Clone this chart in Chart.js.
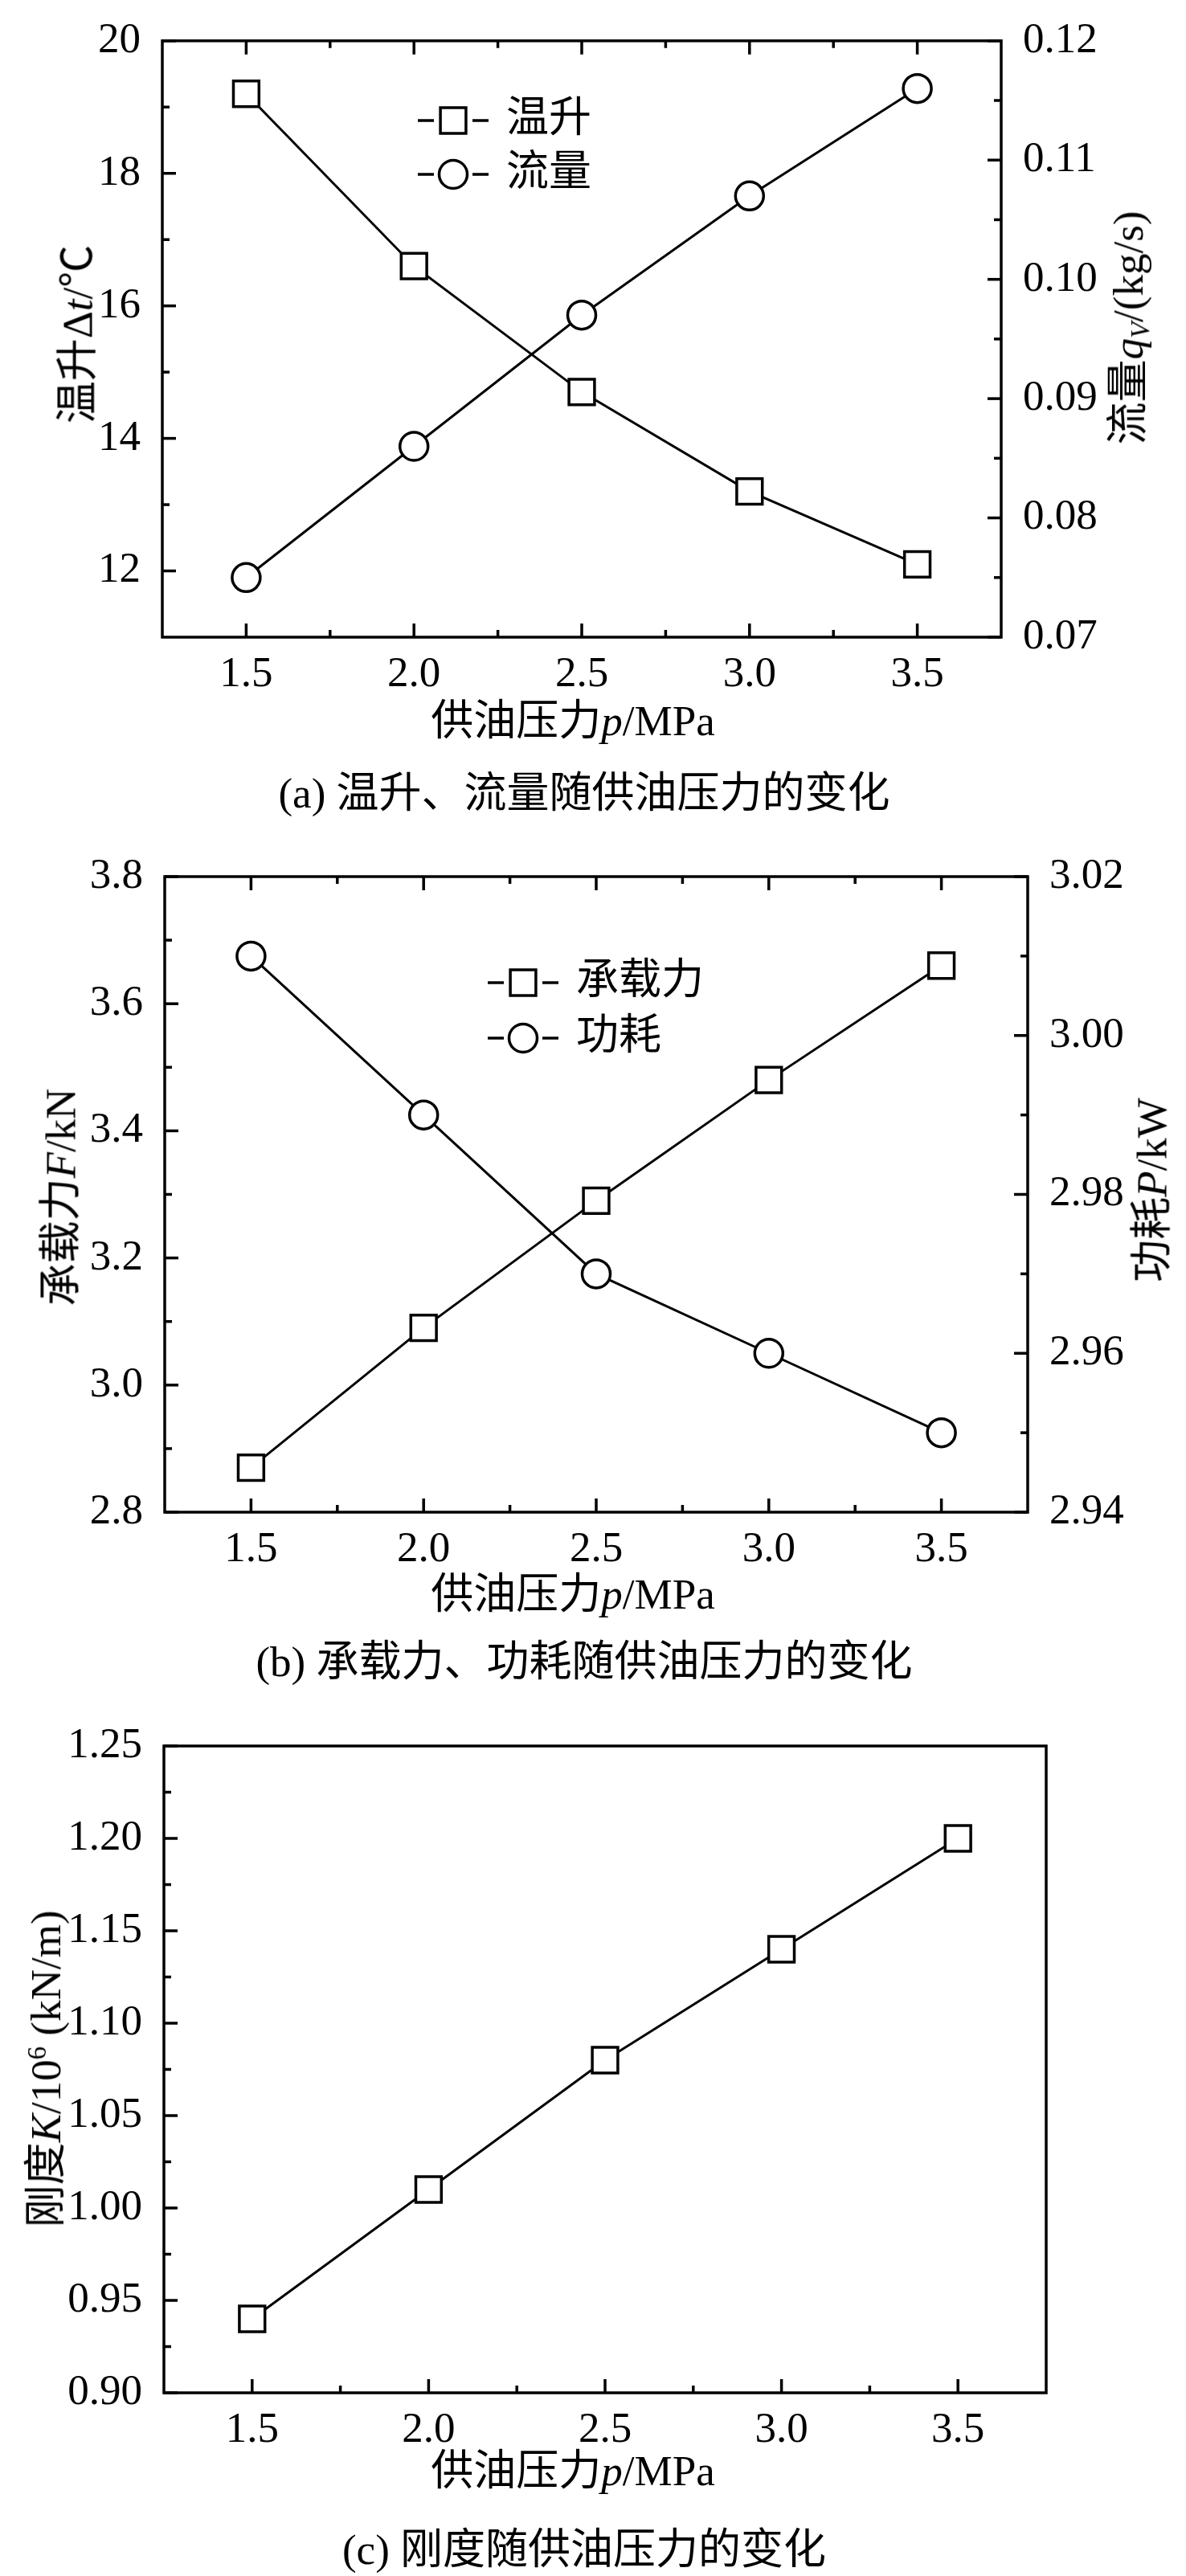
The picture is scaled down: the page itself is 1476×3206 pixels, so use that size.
<!DOCTYPE html>
<html>
<head>
<meta charset="utf-8">
<script src="https://cdn.jsdelivr.net/npm/chart.js@4.4.1/dist/chart.umd.min.js"></script>
<style>
  body { margin: 0; background: #fff; }
  #page { position: relative; width: 1476px; height: 3206px; overflow: hidden; }
  canvas { position: absolute; left: 0; }
  .txt {
    position: absolute; white-space: nowrap; line-height: 1; color: #000;
    font-family: 'Liberation Serif', 'Noto Sans CJK SC', serif; font-size: 53px;
  }
  .mid { transform: translate(-50%, -50%); }
  .rot { transform: translate(-50%, -50%) rotate(-90deg); }
  .txt sub { font-size: 0.62em; vertical-align: -0.25em; }
  .txt sup { font-size: 0.62em; vertical-align: 0.55em; }
</style>
</head>
<body>
<div id="page">
  <canvas id="chartA" width="1476" height="870" style="top:0px"></canvas>
  <canvas id="chartB" width="1476" height="919" style="top:1040px"></canvas>
  <canvas id="chartC" width="1476" height="935" style="top:2120px"></canvas>

  <div class="txt rot" style="left:97px;top:416px">温升Δ<i>t</i>/℃</div>
  <div class="txt rot" style="left:1407px;top:408px">流量<i>q</i><sub><i>V</i></sub>/(kg/s)</div>
  <div class="txt mid" style="left:713px;top:897px">供油压力<i>p</i>/MPa</div>
  <div class="txt mid" style="left:727px;top:987px">(a) 温升、流量随供油压力的变化</div>

  <div class="txt rot" style="left:76px;top:1490px">承载力<i>F</i>/kN</div>
  <div class="txt rot" style="left:1434px;top:1481px">功耗<i>P</i>/kW</div>
  <div class="txt mid" style="left:713px;top:1984px">供油压力<i>p</i>/MPa</div>
  <div class="txt mid" style="left:727px;top:2068px">(b) 承载力、功耗随供油压力的变化</div>

  <div class="txt rot" style="left:57px;top:2575px">刚度<i>K</i>/10<sup>6</sup> (kN/m)</div>
  <div class="txt mid" style="left:713px;top:3075px">供油压力<i>p</i>/MPa</div>
  <div class="txt mid" style="left:727px;top:3173px">(c) 刚度随供油压力的变化</div>
</div>

<script>
// values
const pressure = [1.5, 2.0, 2.5, 3.0, 3.5];
const tempRise = [19.2, 16.6, 14.7, 13.2, 12.1];
const flowRate = [0.075, 0.086, 0.097, 0.107, 0.116];
const loadForce = [2.87, 3.09, 3.29, 3.48, 3.66];
const powerLoss = [3.01, 2.99, 2.97, 2.96, 2.95];
const stiffness = [0.94, 1.01, 1.08, 1.14, 1.20];

// tick positions (major ones get labels)
const pressureTicks = [1.5, 2.0, 2.5, 3.0, 3.5];
const pressureMinor = [1.75, 2.25, 2.75, 3.25];
const tempTicks = [12, 14, 16, 18, 20];
const tempMinor = [13, 15, 17, 19];
const flowTicks = [0.07, 0.08, 0.09, 0.10, 0.11, 0.12];
const flowMinor = [0.075, 0.085, 0.095, 0.105, 0.115];
const forceTicks = [2.8, 3.0, 3.2, 3.4, 3.6, 3.8];
const forceMinor = [2.9, 3.1, 3.3, 3.5, 3.7];
const powerTicks = [2.94, 2.96, 2.98, 3.00, 3.02];
const powerMinor = [2.95, 2.97, 2.99, 3.01];
const stiffTicks = [0.90, 0.95, 1.00, 1.05, 1.10, 1.15, 1.20, 1.25];
const stiffMinor = [0.925, 0.975, 1.025, 1.075, 1.125, 1.175, 1.225];

const tickFont = { family: "'Liberation Serif', serif", size: 53 };

function points(ys) {
  return pressure.map((p, i) => ({ x: p, y: ys[i] }));
}

function setTicks(scale, major, minor) {
  scale.ticks = major.concat(minor).sort((a, b) => a - b).map(v => ({ value: v }));
}

function xAxis(height) {
  return {
    type: 'linear', position: 'bottom', min: 1.25, max: 3.75,
    grid: { display: false }, border: { display: false },
    afterBuildTicks: s => setTicks(s, pressureTicks, pressureMinor),
    afterFit: s => { s.height = height; },
    ticks: {
      autoSkip: false, maxRotation: 0, padding: 7, color: '#000', font: tickFont,
      callback: v => pressureTicks.includes(v) ? v.toFixed(1) : ''
    }
  };
}

function yAxis(position, min, max, major, minor, digits, width) {
  return {
    type: 'linear', position, min, max,
    grid: { display: false }, border: { display: false },
    afterBuildTicks: s => setTicks(s, major, minor),
    afterFit: s => { s.width = width; },
    ticks: {
      autoSkip: false, padding: 19, color: '#000', font: tickFont,
      callback: v => major.includes(v) ? v.toFixed(digits) : ''
    }
  };
}

function series(label, ys, style, axis) {
  const r = style === 'rect' ? 22.5 : 17.5;
  return {
    label, data: points(ys), yAxisID: axis,
    borderColor: '#000', borderWidth: 3, tension: 0,
    pointStyle: style, pointRadius: r, pointHoverRadius: r,
    pointBorderWidth: 3.5, pointBackgroundColor: '#fff', pointBorderColor: '#000',
    clip: false
  };
}

// frame around the plot area plus inward tick marks
const frameTicks = {
  id: 'frameTicks',
  afterDatasetsDraw(chart, args, opts) {
    const { ctx, chartArea: a } = chart;
    ctx.save();
    ctx.strokeStyle = '#000';
    ctx.lineWidth = 3.5;
    ctx.strokeRect(a.left, a.top, a.right - a.left, a.bottom - a.top);
    Object.values(chart.scales).forEach(scale => {
      scale.ticks.forEach(t => {
        const len = t.label ? 17 : 9;
        const p = scale.getPixelForValue(t.value);
        ctx.beginPath();
        if (scale.axis === 'x') {
          ctx.moveTo(p, a.bottom); ctx.lineTo(p, a.bottom - len);
          if (opts.mirrorTop) { ctx.moveTo(p, a.top); ctx.lineTo(p, a.top + len); }
        } else if (scale.position === 'left') {
          ctx.moveTo(a.left, p); ctx.lineTo(a.left + len, p);
        } else {
          ctx.moveTo(a.right, p); ctx.lineTo(a.right - len, p);
        }
        ctx.stroke();
      });
    });
    ctx.restore();
  }
};

// "-□- label" style legend
const dashLegend = {
  id: 'dashLegend',
  afterDraw(chart, args, opts) {
    if (!opts.show) return;
    const ctx = chart.ctx;
    chart.data.datasets.forEach((ds, i) => {
      const x = opts.x, y = opts.y + i * opts.rowGap, cx = x + 44;
      ctx.save();
      ctx.strokeStyle = '#000';
      ctx.lineWidth = 3.5;
      ctx.beginPath();
      ctx.moveTo(x, y); ctx.lineTo(x + 20, y);
      ctx.moveTo(x + 68, y); ctx.lineTo(x + 88, y);
      ctx.stroke();
      ctx.beginPath();
      if (ds.pointStyle === 'rect') {
        const s = ds.pointRadius * Math.SQRT1_2;
        ctx.rect(cx - s, y - s, 2 * s, 2 * s);
      } else {
        ctx.arc(cx, y, ds.pointRadius, 0, Math.PI * 2);
      }
      ctx.fillStyle = '#fff';
      ctx.fill();
      ctx.stroke();
      ctx.fillStyle = '#000';
      ctx.font = "53px 'Liberation Serif', 'Noto Sans CJK SC', serif";
      ctx.textBaseline = 'middle';
      ctx.fillText(ds.label, x + 110, y);
      ctx.restore();
    });
  }
};

function baseOptions(top, right, scales, plugins) {
  return {
    responsive: false, animation: false, devicePixelRatio: 1, events: [],
    layout: { padding: { top, right, left: 0, bottom: 0 } },
    scales,
    plugins: Object.assign({ legend: { display: false }, tooltip: { enabled: false } }, plugins)
  };
}

function drawCharts() {
  new Chart(document.getElementById('chartA'), {
    type: 'line',
    data: {
      datasets: [
        series('温升', tempRise, 'rect', 'yT'),
        series('流量', flowRate, 'circle', 'yQ')
      ]
    },
    options: baseOptions(32, 0, {
      x: xAxis(77),
      yT: yAxis('left', 11, 20, tempTicks, tempMinor, 0, 202),
      yQ: yAxis('right', 0.07, 0.12, flowTicks, flowMinor, 2, 230)
    }, {
      frameTicks: { mirrorTop: true },
      dashLegend: { show: true, x: 520, y: 150, rowGap: 67 }
    }),
    plugins: [frameTicks, dashLegend]
  });

  new Chart(document.getElementById('chartB'), {
    type: 'line',
    data: {
      datasets: [
        series('承载力', loadForce, 'rect', 'yF'),
        series('功耗', powerLoss, 'circle', 'yP')
      ]
    },
    options: baseOptions(51, 0, {
      x: xAxis(77),
      yF: yAxis('left', 2.8, 3.8, forceTicks, forceMinor, 1, 205),
      yP: yAxis('right', 2.94, 3.02, powerTicks, powerMinor, 2, 197)
    }, {
      frameTicks: { mirrorTop: true },
      dashLegend: { show: true, x: 607, y: 183, rowGap: 69 }
    }),
    plugins: [frameTicks, dashLegend]
  });

  new Chart(document.getElementById('chartC'), {
    type: 'line',
    data: {
      datasets: [
        series('刚度', stiffness, 'rect', 'yK')
      ]
    },
    options: baseOptions(53, 174, {
      x: xAxis(77),
      yK: yAxis('left', 0.90, 1.25, stiffTicks, stiffMinor, 2, 204)
    }, {
      frameTicks: { mirrorTop: false },
      dashLegend: { show: false }
    }),
    plugins: [frameTicks, dashLegend]
  });
}

// make sure the serif face is resolved before the canvases draw text
Promise.all([
  document.fonts.load("53px 'Liberation Serif'"),
  document.fonts.load("53px 'Noto Sans CJK SC'", '温升')
]).then(drawCharts, drawCharts);
</script>
</body>
</html>
